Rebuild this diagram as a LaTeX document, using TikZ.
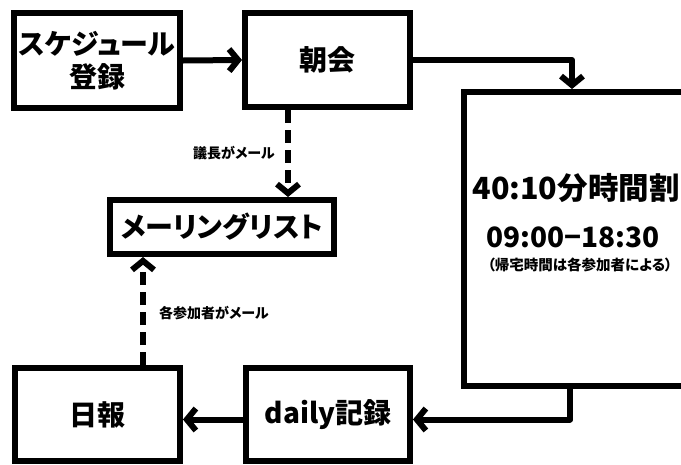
\documentclass[tikz,border=0pt]{standalone}
\usepackage{fontspec}
\setmainfont{Noto Sans CJK JP}[RawFeature=+palt]
\usetikzlibrary{arrows.meta}
\begin{document}
\begin{tikzpicture}[x=1pt,y=-1pt,
  box/.style={draw, line width=6pt, inner sep=0pt, align=center, font=\bfseries\fontsize{28}{33}\selectfont},
  arr/.style={line width=6pt, line join=round, -{Straight Barb[length=9pt,width=22pt]}},
  dsh/.style={arr, dash pattern=on 13pt off 7pt},
  lbl/.style={font=\bfseries\fontsize{14}{16}\selectfont},
  bigt/.style={font=\bfseries\fontsize{30.5}{34}\selectfont},
  midt/.style={font=\bfseries\fontsize{28}{34}\selectfont},
  small/.style={font=\bfseries\fontsize{14.5}{16}\selectfont}]
\useasboundingbox (0,0) rectangle (681,464);
\node[box, minimum width=166pt, minimum height=95pt] (b1) at (97,60.5) {スケジュール\\登録};
\node[box, minimum width=165pt, minimum height=94pt] (b2) at (327.5,60) {朝会};
\node[box, minimum width=224pt, minimum height=54pt] (ml) at (222,227) {メーリングリスト};
\node[box, minimum width=222pt, minimum height=294pt] (bigbox) at (575,239) {};
\node[box, minimum width=165pt, minimum height=93pt] (nippo) at (97.5,414.5) {日報};
\node[box, minimum width=164pt, minimum height=93pt] (daily) at (328,414.5) {daily記録};
\node[bigt] (t1) at (576,188) {40:10分時間割};
\node[midt] (t2) at (573,237) {09:00−18:30};
\node[small] (t3) at (580,265) {（帰宅時間は各参加者による）};
\draw[arr] (b1.east) -- (b2.west);
\draw[arr] (b2.east) -| ([xshift=-3pt]bigbox.north);
\draw[arr] ([xshift=-5pt]bigbox.south) |- ([yshift=-5pt]daily.east);
\draw[arr] ([yshift=-5pt]daily.west) -- ([yshift=-5pt]nippo.east);
\coordinate (d1) at ([xshift=-39.5pt]b2.south);
\draw[dsh] (d1) -- (d1 |- ml.north);
\coordinate (d2) at ([xshift=45.5pt]nippo.north);
\draw[dsh] (d2) -- (d2 |- ml.south);
\node[lbl] (l1) at (234,153) {議長がメール};
\node[lbl] (l2) at (214,313) {各参加者がメール};
\end{tikzpicture}
\end{document}
